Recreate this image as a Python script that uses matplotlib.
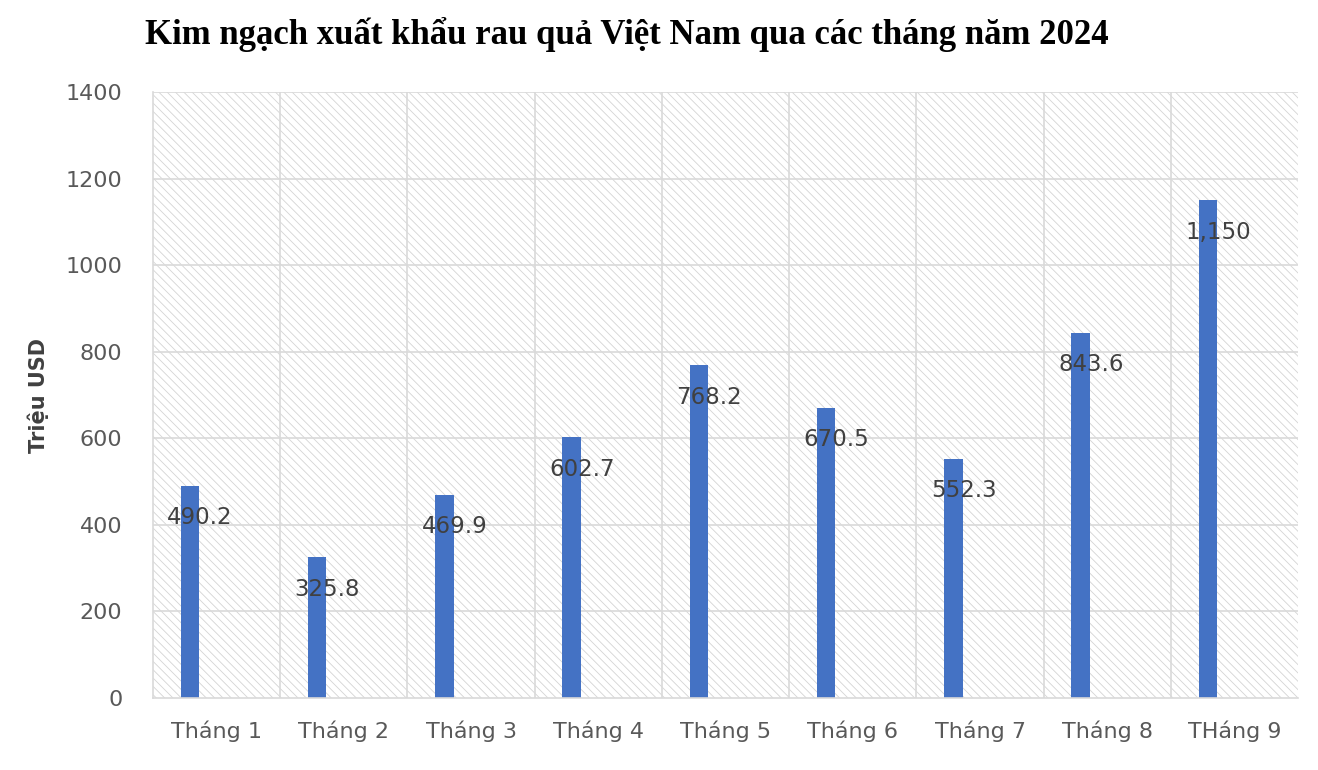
import matplotlib
matplotlib.use("Agg")
import matplotlib.pyplot as plt
from matplotlib.patches import Rectangle

categories = ["Tháng 1", "Tháng 2", "Tháng 3", "Tháng 4", "Tháng 5", "Tháng 6", "Tháng 7", "Tháng 8", "THáng 9"]
values = [490.2, 325.8, 469.9, 602.7, 768.2, 670.5, 552.3, 843.6, 1150]
labels = ["490.2", "325.8", "469.9", "602.7", "768.2", "670.5", "552.3", "843.6", "1,150"]

plt.rcParams['hatch.linewidth'] = 0.6
fig = plt.figure(figsize=(13.18, 7.7), dpi=100)
ax = fig.add_axes([0.116, 0.0935, 0.869, 0.787])
ax.set_xlim(0, len(categories))
ax.set_ylim(0, 1400)
ax.add_patch(Rectangle((0, 0), 1, 1, transform=ax.transAxes, facecolor='white',
                       edgecolor='#d4d4d4', linewidth=0, hatch='\\\\\\\\', zorder=0))
for y in range(200, 1401, 200):
    ax.axhline(y, color='#d9d9d9', lw=1.2, zorder=1)
for x in range(1, len(categories)):
    ax.axvline(x, color='#d9d9d9', lw=1.2, zorder=1)
xs = [i + 0.29 for i in range(len(categories))]
ax.bar(xs, values, width=0.145, color='#4472c4', zorder=2)
for x, v, l in zip(xs, values, labels):
    ax.text(x + 0.08, v - 74, l, ha='center', va='center', fontsize=16.5, color='#404040', zorder=3)
ax.set_xticks([i + 0.5 for i in range(len(categories))])
ax.set_xticklabels(categories, fontsize=16, color='#595959')
ax.set_yticks(range(0, 1401, 200))
ax.set_yticklabels([str(v) for v in range(0, 1401, 200)], fontsize=16, color='#595959')
ax.tick_params(axis='x', length=0, pad=16)
ax.tick_params(axis='y', length=0, pad=22)
for s in ['top', 'right']:
    ax.spines[s].set_visible(False)
ax.spines['left'].set_color('#d9d9d9')
ax.spines['bottom'].set_color('#d9d9d9')
ax.spines['left'].set_linewidth(1.2)
ax.spines['bottom'].set_linewidth(1.2)
ax.set_ylabel("Triệu USD", fontsize=15, fontweight='bold', color='#404040', labelpad=12)
fig.text(0.11, 0.955, "Kim ngạch xuất khẩu rau quả Việt Nam qua các tháng năm 2024",
         ha='left', va='center', fontsize=25, fontweight='bold', family='Liberation Serif')
fig.savefig("out.png", dpi=100)
